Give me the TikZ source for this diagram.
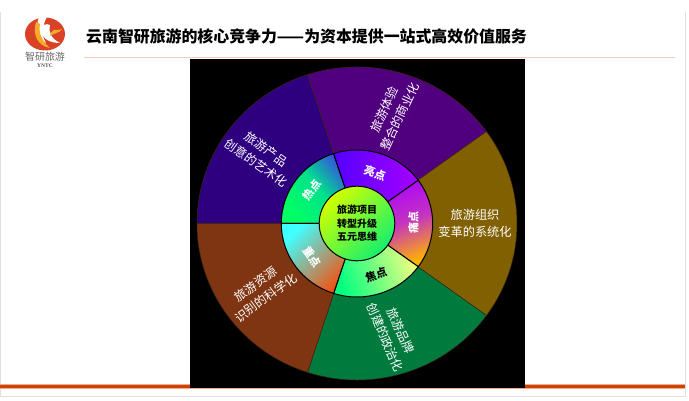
\documentclass[tikz,border=0pt]{standalone}
\usepackage{fontspec}
\setmainfont{Noto Sans CJK SC}
\newfontfamily\latinfont{Liberation Serif}
\definecolor{logored}{RGB}{217,66,38}
\definecolor{logoorange}{RGB}{245,170,40}
\definecolor{barorange}{RGB}{204,68,8}
\definecolor{barhalo}{RGB}{240,170,140}
\definecolor{rulepink}{RGB}{245,205,190}
\begin{document}
\begin{tikzpicture}[x=1pt, y=1pt,
    outersector/.style={draw=black!70!brown, line width=0.5pt},
    ringsector/.style={draw=black, line width=1pt},
    outerlabel/.style={text=white, align=center, inner sep=0pt, font=\fontsize{12.2}{17}\selectfont},
    ringlabel/.style={inner sep=0pt, font=\fontsize{11}{13}\selectfont\bfseries}]
    \useasboundingbox (0,0) rectangle (689,401);
    % frame and header
    \draw[black!12, line width=0.8pt] (0.5,389)--(0.5,5)--(685.5,5)--(685.5,389);
    \fill[barhalo] (0,12.3) rectangle (685,16.7);
    \fill[barorange] (0,13) rectangle (685,16);
    \draw[rulepink, line width=1.4pt] (84,343.3)--(675,343.3);
    \node[anchor=west, inner sep=0pt, font=\fontsize{15.9}{18}\selectfont\bfseries] (title) at (86,365)
        {云南智研旅游的核心竞争力——为资本提供一站式高效价值服务};
    % logo
    \fill[logored] (45,367) ellipse[x radius=20, y radius=16.5];
    \fill[white] (27,384) .. controls (31,384) and (36,384) .. (39,384)
        .. controls (35,374) and (38,362) .. (46,358) .. controls (41,366) and (42,375) .. (47,384)
        -- (25,384) -- cycle;
    \fill[white] (40,372) .. controls (42,362) and (50,358) .. (60,358)
        .. controls (52,362) and (48,368) .. (50,376) .. controls (46,378) and (42,376) .. (40,372);
    \fill[logoorange] (36,379) .. controls (32,366) and (38,355) .. (50,353)
        .. controls (43,359) and (38,367) .. (40,377) -- cycle;
    \fill[logoorange] (50,365) .. controls (54,368) and (60,368) .. (62,372)
        .. controls (60,371) and (56,371) .. (54,371) .. controls (52,370) and (50,368) .. (50,365);
    \node[inner sep=0pt, text=black!60, font=\fontsize{10}{10}\selectfont] (logotext) at (45,344) {智研旅游};
    \node[inner sep=0pt, text=black!70, font=\fontsize{5.5}{6}\selectfont\latinfont\bfseries] (logoname) at (45,335.5) {YNTC};
    % black panel
    \fill[black] (189.5,13) rectangle (525,342);
    \begin{scope}[shift={(357,177.5)}]
        % outer sectors
        \draw[outersector, fill={rgb,255:red,46;green,0;blue,128}] (0,0)--(108:160 and 156.5)
            arc[start angle=108, end angle=180, x radius=160, y radius=156.5]--cycle;
        \draw[outersector, fill={rgb,255:red,80;green,0;blue,126}] (0,0)--(36:160 and 156.5)
            arc[start angle=36, end angle=108, x radius=160, y radius=156.5]--cycle;
        \draw[outersector, fill={rgb,255:red,128;green,96;blue,0}] (0,0)--(-36:160 and 156.5)
            arc[start angle=-36, end angle=36, x radius=160, y radius=156.5]--cycle;
        \draw[outersector, fill={rgb,255:red,0;green,122;blue,61}] (0,0)--(-108:160 and 156.5)
            arc[start angle=-108, end angle=-36, x radius=160, y radius=156.5]--cycle;
        \draw[outersector, fill={rgb,255:red,127;green,52;blue,18}] (0,0)--(180:160 and 156.5)
            arc[start angle=180, end angle=252, x radius=160, y radius=156.5]--cycle;
        % ring sectors
        \shadedraw[ringsector, bottom color={rgb,255:red,0;green,255;blue,100}, top color={rgb,255:red,60;green,60;blue,235}, middle color={rgb,255:red,0;green,225;blue,140}, shading angle=-50]
            (0,0)--(108:75.7 and 73.5) arc[start angle=108, end angle=180, x radius=75.7, y radius=73.5]--cycle;
        \shadedraw[ringsector, bottom color={rgb,255:red,85;green,0;blue,255}, top color={rgb,255:red,165;green,0;blue,255}, shading angle=-90]
            (0,0)--(36:75.7 and 73.5) arc[start angle=36, end angle=108, x radius=75.7, y radius=73.5]--cycle;
        \shadedraw[ringsector, top color={rgb,255:red,170;green,0;blue,255}, bottom color={rgb,255:red,255;green,180;blue,0}, middle color={rgb,255:red,195;green,50;blue,195}, shading angle=20]
            (0,0)--(-36:75.7 and 73.5) arc[start angle=-36, end angle=36, x radius=75.7, y radius=73.5]--cycle;
        \shadedraw[ringsector, bottom color={rgb,255:red,0;green,255;blue,128}, top color={rgb,255:red,255;green,255;blue,130}, shading angle=-70]
            (0,0)--(-108:75.7 and 73.5) arc[start angle=-108, end angle=-36, x radius=75.7, y radius=73.5]--cycle;
        \shadedraw[ringsector, top color={rgb,255:red,64;green,255;blue,255}, bottom color={rgb,255:red,255;green,70;blue,0}, shading angle=45]
            (0,0)--(180:75.7 and 73.5) arc[start angle=180, end angle=252, x radius=75.7, y radius=73.5]--cycle;
        % centre
        \shadedraw[ringsector, top color={rgb,255:red,210;green,255;blue,0}, bottom color={rgb,255:red,20;green,240;blue,110}, shading angle=45]
            (0,0) ellipse[x radius=37.8, y radius=37.3];
    \end{scope}
    % labels
    \node[inner sep=0pt, align=center, font=\fontsize{10}{13.4}\selectfont\bfseries] (core) at (357,177.5)
        {旅游项目\\转型升级\\五元思维};
    \node[outerlabel, rotate=-36] (product) at (261,245) {旅游产品\\创意的艺术化};
    \node[outerlabel, rotate=65] (experience) at (392,288) {旅游体验\\整合的商业化};
    \node[outerlabel] (organize) at (475,177.5) {旅游组织\\变革的系统化};
    \node[outerlabel, rotate=-66] (brand) at (393,67) {旅游品牌\\创建的政治化};
    \node[outerlabel, rotate=36] (resource) at (261,110) {旅游资源\\识别的科学化};
    \node[ringlabel, text=white, rotate=54] (hot) at (311.7,211) {热点};
    \node[ringlabel, text=white, rotate=-18] (bright) at (375,227.7) {亮点};
    \node[ringlabel, text=white, rotate=90] (pain) at (413.3,178.3) {痛点};
    \node[ringlabel, text=black, rotate=18] (focus) at (376,126) {焦点};
    \node[ringlabel, text=white, rotate=-54] (key) at (312.3,143.7) {重点};
\end{tikzpicture}
\end{document}
